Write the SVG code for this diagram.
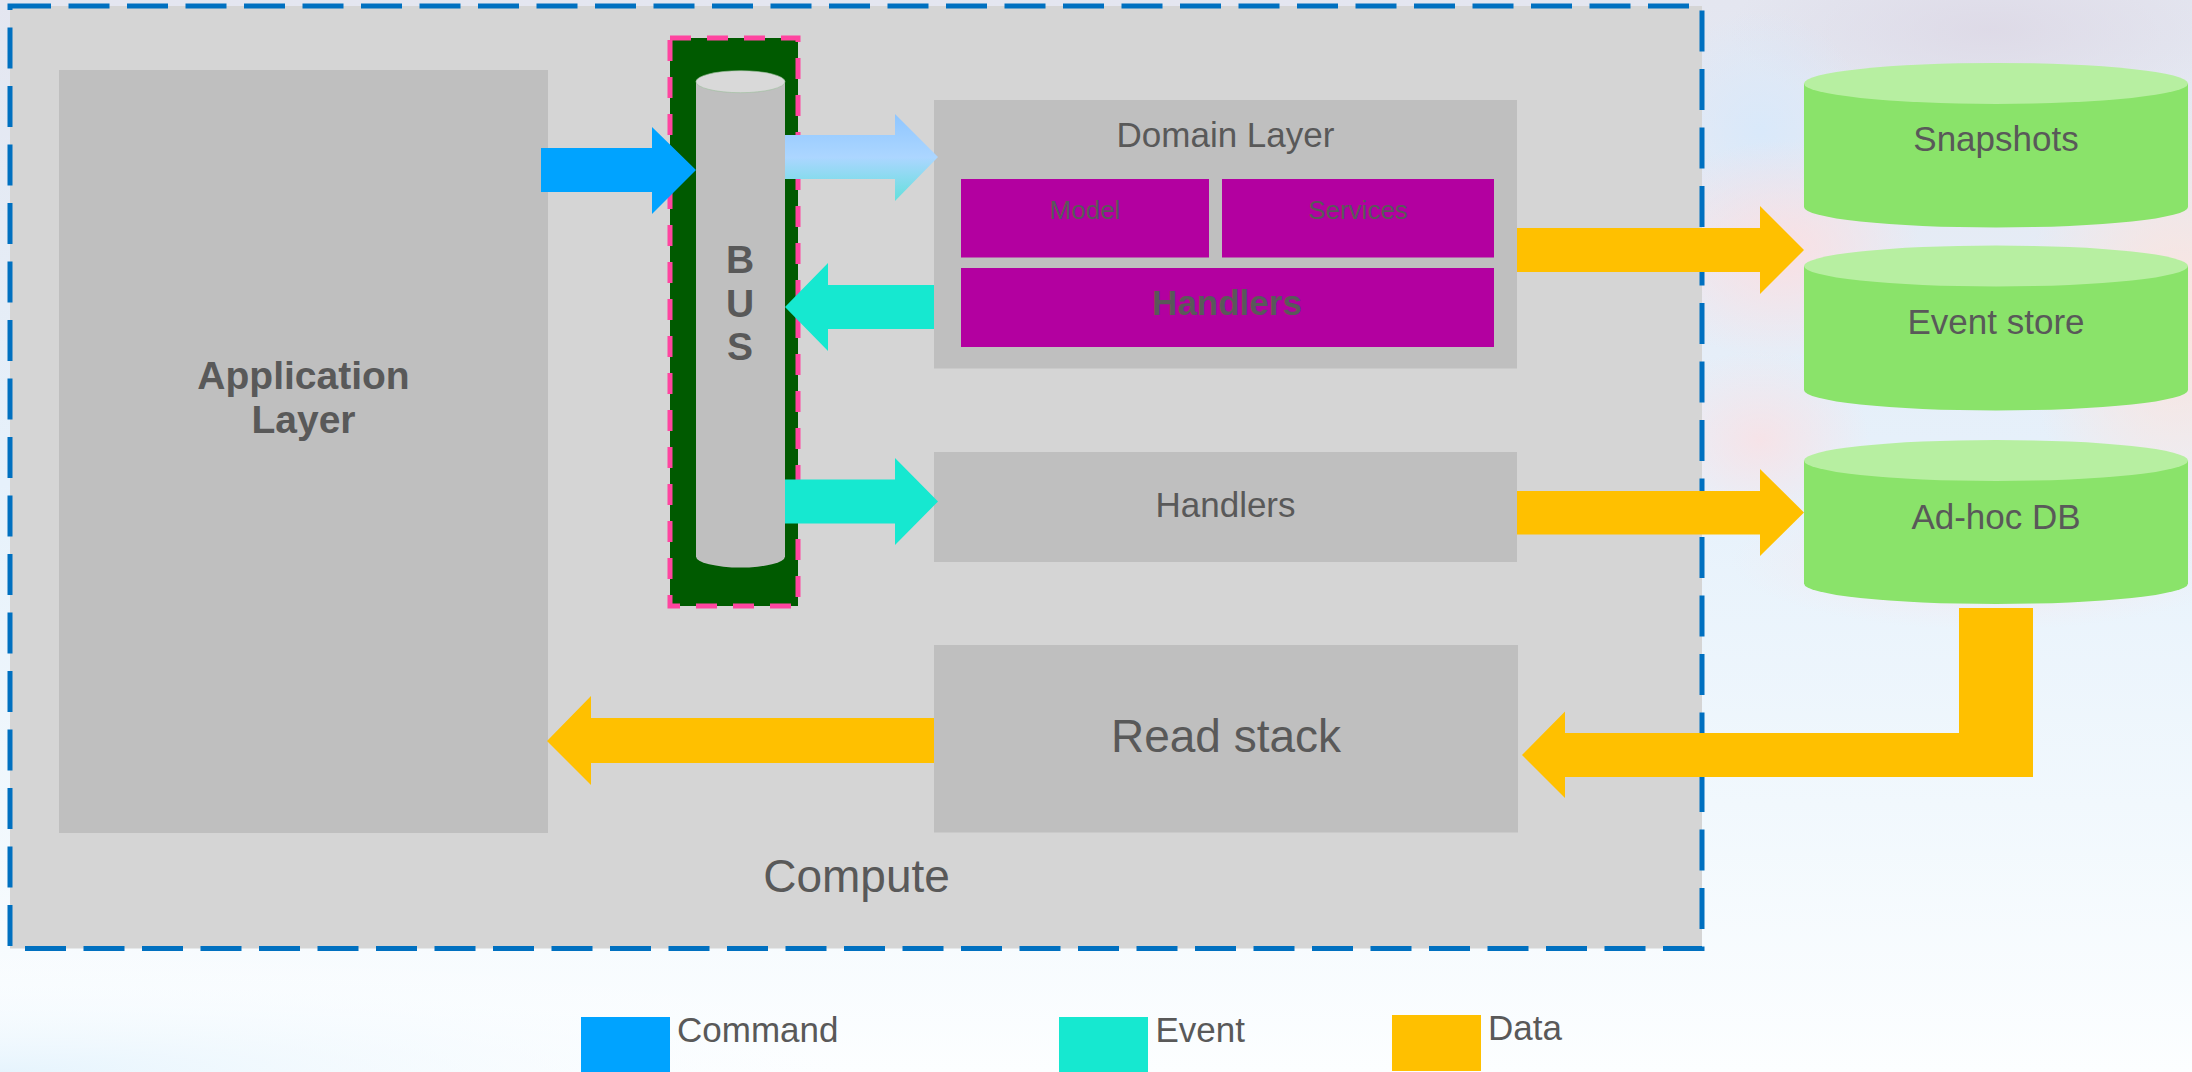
<svg xmlns="http://www.w3.org/2000/svg" width="2192" height="1072" viewBox="0 0 2192 1072">
<style>
text{font-family:"Liberation Sans",Arial,sans-serif;fill:#595959;text-anchor:middle}
.b{font-weight:bold}
.box{fill:#bfbfbf}
.mag{fill:#b300a0}
.cmd{fill:#00a3ff}
.evt{fill:#16e8d0}
.dat{fill:#ffc000}
.cylb{fill:#8ae36a}
.cylt{fill:#b7efa1}
</style>
<defs>
<linearGradient id="sky" x1="0" y1="0" x2="0" y2="1">
<stop offset="0" stop-color="#e4e6f0"/>
<stop offset="0.45" stop-color="#e6f1fb"/>
<stop offset="0.75" stop-color="#f1f8fd"/>
<stop offset="1" stop-color="#fcfeff"/>
</linearGradient>
<radialGradient id="pink1" cx="0.5" cy="0.5" r="0.5">
<stop offset="0" stop-color="#fbdfe2" stop-opacity="0.95"/>
<stop offset="1" stop-color="#fbdfe2" stop-opacity="0"/>
</radialGradient>
<radialGradient id="peach" cx="0.5" cy="0.5" r="0.5">
<stop offset="0" stop-color="#fde3dc" stop-opacity="0.95"/>
<stop offset="1" stop-color="#fde3dc" stop-opacity="0"/>
</radialGradient>
<radialGradient id="lav" cx="0.5" cy="0.5" r="0.5">
<stop offset="0" stop-color="#ddd9e6" stop-opacity="0.9"/>
<stop offset="1" stop-color="#ddd9e6" stop-opacity="0"/>
</radialGradient>
<radialGradient id="blue1" cx="0.5" cy="0.5" r="0.5">
<stop offset="0" stop-color="#d8e9fb" stop-opacity="0.9"/>
<stop offset="1" stop-color="#d8e9fb" stop-opacity="0"/>
</radialGradient>
<radialGradient id="cyanL" cx="0" cy="1" r="1">
<stop offset="0" stop-color="#e6f4fd"/>
<stop offset="1" stop-color="#ffffff" stop-opacity="0"/>
</radialGradient>
<linearGradient id="gradArrow" x1="0" y1="0" x2="0" y2="1">
<stop offset="0" stop-color="#8fc6ff"/>
<stop offset="0.5" stop-color="#acd6ff"/>
<stop offset="1" stop-color="#62e0dc"/>
</linearGradient>
</defs>

<g id="background">
<rect x="0" y="0" width="2192" height="1072" fill="url(#sky)"/>
<ellipse cx="1990" cy="30" rx="260" ry="90" fill="url(#lav)"/>
<ellipse cx="1760" cy="130" rx="110" ry="120" fill="url(#blue1)"/>
<ellipse cx="1780" cy="250" rx="140" ry="110" fill="url(#pink1)"/>
<ellipse cx="1760" cy="440" rx="110" ry="90" fill="url(#pink1)" opacity="0.8"/>
<ellipse cx="2175" cy="320" rx="150" ry="230" fill="url(#peach)"/>
<ellipse cx="1990" cy="560" rx="260" ry="70" fill="url(#pink1)" opacity="0.6"/>
<rect x="0" y="950" width="1000" height="122" fill="url(#cyanL)"/>
</g>

<g id="compute">
<rect x="10" y="6" width="1692" height="942.5" fill="#d5d5d5" stroke="#0070c0" stroke-width="5" stroke-dasharray="41 17.5"/>
<text x="856.5" y="892" font-size="46">Compute</text>
</g>

<g id="application-layer">
<rect class="box" x="59" y="70" width="489" height="763"/>
<text class="b" x="303.5" y="389" font-size="39">Application</text>
<text class="b" x="303.5" y="432.5" font-size="39">Layer</text>
</g>

<g id="bus">
<rect x="670" y="38" width="128" height="568" fill="#005a00" stroke="#ff45a0" stroke-width="5" stroke-dasharray="21 16"/>
<path d="M696,81.7 V556.5 A44.5 11 0 0 0 785,556.5 V81.7 Z" fill="#bfbfbf"/>
<ellipse cx="740.5" cy="81.7" rx="44.5" ry="11" fill="#d9d9d9" stroke="#9cbf9c" stroke-width="0.6"/>
<text class="b" x="740" y="273" font-size="39">B</text>
<text class="b" x="740" y="317" font-size="39">U</text>
<text class="b" x="740" y="360" font-size="39">S</text>
</g>

<g id="domain-layer">
<rect class="box" x="934" y="100" width="583" height="268.5"/>
<text x="1225.5" y="147" font-size="35">Domain Layer</text>
<rect class="mag" x="961" y="179" width="248" height="78.5"/>
<text x="1085" y="219" font-size="26">Model</text>
<rect class="mag" x="1222" y="179" width="272" height="78.5"/>
<text x="1358" y="219" font-size="26">Services</text>
<rect class="mag" x="961" y="268" width="533" height="79"/>
<text class="b" x="1227" y="314.5" font-size="35">Handlers</text>
</g>

<g id="handlers">
<rect class="box" x="934" y="452" width="583" height="110"/>
<text x="1225.5" y="517" font-size="35">Handlers</text>
</g>

<g id="read-stack">
<rect class="box" x="934" y="645" width="584" height="187.5"/>
<text x="1226" y="752" font-size="46">Read stack</text>
</g>

<g id="snapshots">
<path class="cylb" d="M1804,83.4 V207 A192,20.5 0 0 0 2188,207 V83.4 Z"/>
<ellipse class="cylt" cx="1996" cy="83.4" rx="192" ry="20.5"/>
<text x="1996" y="151" font-size="35">Snapshots</text>
</g>

<g id="event-store">
<path class="cylb" d="M1804,266 V390 A192,20.5 0 0 0 2188,390 V266 Z"/>
<ellipse class="cylt" cx="1996" cy="266" rx="192" ry="20.5"/>
<text x="1996" y="334" font-size="35">Event store</text>
</g>

<g id="adhoc-db">
<path class="cylb" d="M1804,460.5 V583.5 A192,20.5 0 0 0 2188,583.5 V460.5 Z"/>
<ellipse class="cylt" cx="1996" cy="460.5" rx="192" ry="20.5"/>
<text x="1996" y="529" font-size="35">Ad-hoc DB</text>
</g>

<g id="connectors">
<polygon class="cmd" points="541,148 652,148 652,127 696,170 652,214 652,192 541,192"/>
<polygon fill="url(#gradArrow)" points="785,135 895,135 895,114 938,157 895,201 895,179 785,179"/>
<polygon class="evt" points="785,307 828,263 828,285 934,285 934,329 828,329 828,351"/>
<polygon class="evt" points="785,479.5 895,479.5 895,458 938,501.5 895,545 895,523.5 785,523.5"/>
<polygon class="dat" points="1517,228 1760,228 1760,206 1804,250 1760,294 1760,272 1517,272"/>
<polygon class="dat" points="1517,491 1760,491 1760,469 1804,512.5 1760,556 1760,534.5 1517,534.5"/>
<polygon class="dat" points="2033,608 2033,777 1565,777 1565,798 1522,755 1565,711.5 1565,733 1959,733 1959,608"/>
<polygon class="dat" points="547,741 591,696 591,718 934,718 934,763 591,763 591,785"/>
</g>

<g id="legend">
<rect class="cmd" x="581" y="1017" width="89" height="55"/>
<text x="677" y="1042" font-size="35" style="text-anchor:start">Command</text>
<rect class="evt" x="1059" y="1017" width="89" height="55"/>
<text x="1155.5" y="1042" font-size="35" style="text-anchor:start">Event</text>
<rect class="dat" x="1392" y="1015" width="89" height="56"/>
<text x="1488" y="1040" font-size="35" style="text-anchor:start">Data</text>
</g>
</svg>
